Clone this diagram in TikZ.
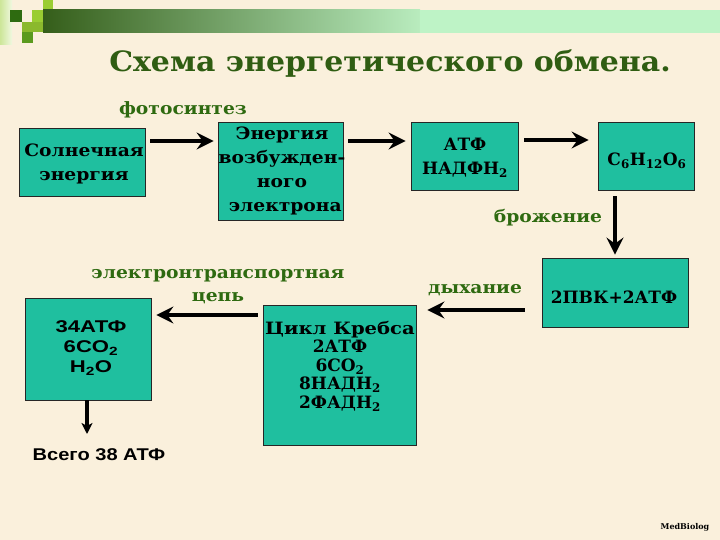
\documentclass[tikz,border=0pt]{standalone}
\usepackage{fontspec}
\setmainfont{DejaVu Serif}
\newfontfamily\wide{DejaVu Serif}[FakeStretch=1.1]
\newfontfamily\wider{DejaVu Serif}[FakeStretch=1.17]
\newfontfamily\arl{Liberation Sans}[FakeStretch=1.18]
\newfontfamily\arlw{Liberation Sans}[FakeStretch=1.3]
\usetikzlibrary{arrows.meta}
\definecolor{bg}{HTML}{FAF0DC}
\definecolor{boxfill}{HTML}{1FBF9F}
\definecolor{lblgreen}{HTML}{2E6A10}
\definecolor{titlegreen}{HTML}{2F5D12}
\definecolor{dkgreen}{HTML}{2E6B10}
\definecolor{lime}{HTML}{9ACD32}
\definecolor{bardark}{RGB}{53,94,26}
\definecolor{barlight}{RGB}{185,236,190}
\definecolor{barend}{RGB}{190,243,198}
\definecolor{midgreen}{HTML}{5A9A1E}
\begin{document}
\begin{tikzpicture}[x=1pt,y=-1pt,
  box/.style={draw=black!85, line width=0.8pt, fill=boxfill, inner sep=0pt},
  btext/.style={align=center, inner sep=0pt, font=\bfseries\fontsize{17}{24}\selectfont},
  lbl/.style={text=lblgreen, align=center, inner sep=0pt, font=\wide\bfseries\fontsize{17}{23}\selectfont},
  arr/.style={line width=4pt, -{Stealth[length=17pt,width=17pt,inset=6pt]}}]
% background
\fill[bg] (0,0) rectangle (720,540);
\useasboundingbox (0,0) rectangle (720,540);
% top decoration
\fill[left color=lime!50, right color=lime!15] (0,0) rectangle (12,45);
\fill[lime] (43,0) rectangle (53,10);
\fill[lime] (32,10) rectangle (55,22);
\fill[dkgreen] (10,10) rectangle (22,22);
\fill[lime!90!black] (22,22) rectangle (43,32);
\fill[midgreen] (22,32) rectangle (33,43);
\shade[left color=bardark, right color=barlight] (43,10) rectangle (420,33);
\fill[barend] (420,10) rectangle (720,33);
% title
\node[text=titlegreen, font=\bfseries\addfontfeature{FakeStretch=1.07}\fontsize{28}{30}\selectfont] (title) at (390,64) {Схема энергетического обмена.};
% boxes
\node[box, minimum width=126pt, minimum height=68pt] (b1) at (82,162) {};
\node[box, minimum width=125pt, minimum height=98pt] (b2) at (280.5,171) {};
\node[box, minimum width=107pt, minimum height=68pt] (b3) at (464.5,156) {};
\node[box, minimum width=96pt, minimum height=68pt] (b4) at (646,156) {};
\node[box, minimum width=146pt, minimum height=69pt] (b5) at (615,292.5) {};
\node[box, minimum width=153pt, minimum height=140pt] (b6) at (339.5,375) {};
\node[box, minimum width=126pt, minimum height=102pt] (b7) at (88,349) {};
% box texts
\node[btext, font=\wide\bfseries\fontsize{17}{24}\selectfont] (t1) at (84,164) {Солнечная\\энергия};
\node[btext, font=\wide\bfseries\fontsize{17}{24.3}\selectfont] (t2) at (282,171) {Энергия\\возбужден-\\ного\\\ электрона};
\node[btext] (t3) at (465,158) {АТФ\\НАДФН\textsubscript{2}};
\node[btext] (t4) at (647,161) {C\textsubscript{6}H\textsubscript{12}O\textsubscript{6}};
\node[btext] (t5) at (614,297) {2ПВК+2АТФ};
\node[btext, font=\bfseries\fontsize{17}{18.5}\selectfont] (t6) at (340,366) {{\addfontfeature{FakeStretch=1.15}Цикл Кребса}\\2АТФ\\6CO\textsubscript{2}\\8НАДН\textsubscript{2}\\2ФАДН\textsubscript{2}};
\node[btext, font=\arlw\bfseries\fontsize{17}{20}\selectfont] (t7) at (91,348) {34АТФ\\6CO\textsubscript{2}\\H\textsubscript{2}O};
% labels
\node[lbl] (l1) at (183,110) {фотосинтез};
\node[lbl] (l2) at (548,218) {брожение};
\node[lbl] (l3) at (475,290) {дыхание};
\node[lbl] (l4) at (218,287) {электронтранспортная\\цепь};
\node[font=\arl\bfseries\fontsize{17}{20}\selectfont] (total) at (99,455) {Всего 38 АТФ};
\node[font=\bfseries\fontsize{8}{10}\selectfont] (mb) at (685,527) {MedBiolog};
% arrows
\draw[arr, shorten <=5pt, shorten >=4pt] ([yshift=21pt]b1.east) -- ([yshift=30pt]b2.west);
\draw[arr, shorten <=5pt, shorten >=5pt] ([yshift=30pt]b2.east) -- ([yshift=15pt]b3.west);
\draw[arr, shorten <=6pt, shorten >=9pt] ([yshift=16pt]b3.east) -- ([yshift=16pt]b4.west);
\draw[arr, shorten <=6pt, shorten >=3pt] ([xshift=-31pt]b4.south) -- (b5.north);
\draw[arr, shorten <=17pt, shorten >=11pt] ([yshift=-17.5pt]b5.west) -- ([yshift=65pt]b6.east);
\draw[arr, shorten <=5pt, shorten >=5pt] ([yshift=60pt]b6.west) -- ([yshift=34pt]b7.east);
\coordinate (e7) at (87,434);
\draw[line width=3.5pt, -{Stealth[length=11pt,width=11pt,inset=3pt]}] ([xshift=-1pt]b7.south) -- (e7);
\end{tikzpicture}
\end{document}
